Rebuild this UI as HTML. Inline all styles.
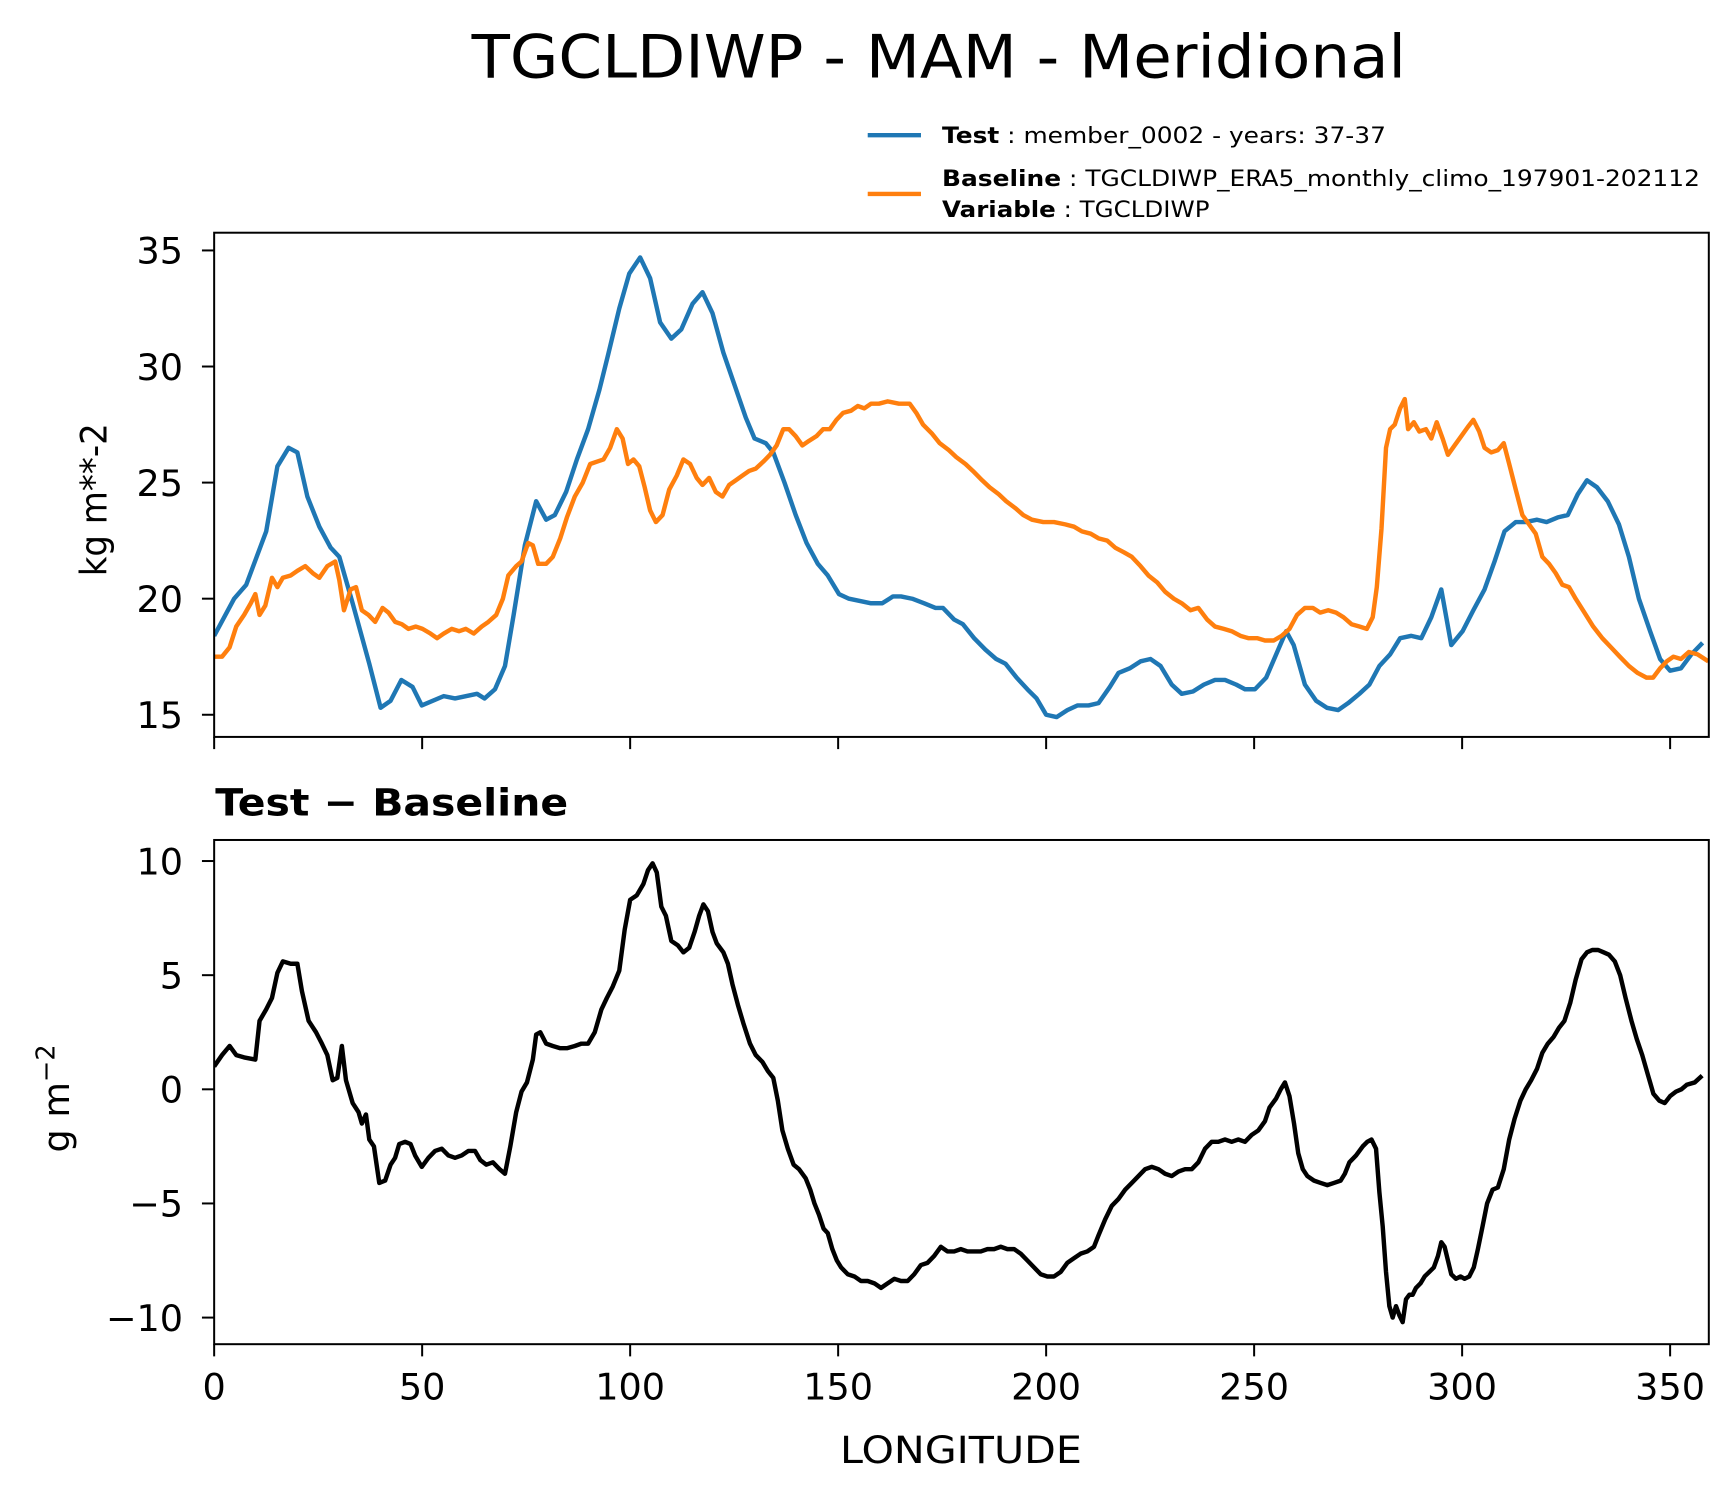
<!DOCTYPE html>
<html><head><meta charset="utf-8"><style>
html,body{margin:0;padding:0;background:#fff;}
svg{display:block;font-family:"DejaVu Sans","Liberation Sans",sans-serif;}
</style></head><body>
<svg id="chart" width="1731" height="1496" viewBox="0 0 1560 1350" preserveAspectRatio="none" xmlns="http://www.w3.org/2000/svg">
<rect width="1560" height="1350" fill="#fff"/>
<text x="425" y="70" font-size="54" textLength="842" lengthAdjust="spacingAndGlyphs">TGCLDIWP - MAM - Meridional</text>
<g>
<line x1="782" y1="122" x2="830" y2="122" stroke="#1f77b4" stroke-width="4"/>
<text x="849" y="129" font-size="20" textLength="400" lengthAdjust="spacingAndGlyphs"><tspan font-weight="bold">Test</tspan> : member_0002 - years: 37-37</text>
<line x1="782" y1="175" x2="830" y2="175" stroke="#ff7f0e" stroke-width="4"/>
<text x="849" y="168" font-size="20" textLength="683" lengthAdjust="spacingAndGlyphs"><tspan font-weight="bold">Baseline</tspan> : TGCLDIWP_ERA5_monthly_climo_197901-202112</text>
<text x="849" y="196" font-size="20" textLength="241" lengthAdjust="spacingAndGlyphs"><tspan font-weight="bold">Variable</tspan> : TGCLDIWP</text>
</g>
<g id="top"></g>
<g id="bot"></g>
<text transform="translate(96,520) rotate(-90)" font-size="33" textLength="138" lengthAdjust="spacingAndGlyphs">kg m**-2</text>
<text transform="translate(62,1040) rotate(-90)" font-size="33">g m<tspan dy="-13" font-size="23">−2</tspan></text>
<text x="194" y="736" font-size="34" font-weight="bold" textLength="318" lengthAdjust="spacingAndGlyphs">Test − Baseline</text>
<text x="757" y="1320" font-size="34" textLength="218" lengthAdjust="spacingAndGlyphs">LONGITUDE</text>
</svg>
<script>
const xTicks=[0,50,100,150,200,250,300,350];
const topYTicks=[15,20,25,30,35];
const botYTicks=[-10,-5,0,5,10];
const botYTickLabels=["−10","−5","0","5","10"];
const testLon=[0,4.8,7.7,12.5,15.2,17.9,20,22.4,25.3,28,30.1,33.3,37.3,40,42.4,45,47.7,49.9,55.2,57.9,63.2,65,67.5,69.9,72,74.7,77.4,79.8,81.9,84.6,87.2,89.9,92.6,94.7,97.4,99.8,102.4,104.8,107.2,109.9,112.3,115,117.4,119.8,122.4,125.1,127.8,129.9,132.6,134.4,137.1,139.8,142.4,145.1,147.5,150.2,152.6,155.2,157.9,160.6,163.2,165.1,167.8,170.7,173.4,175.2,177.9,180,182.7,185.4,188,190.2,192.9,195.5,197.7,200,202.5,205.1,207.5,210.2,212.6,215.3,217.4,220.1,222.7,225.1,227.5,230.2,232.6,235.3,237.9,240.6,243,245.7,247.8,250.2,252.9,255.3,257.7,259.5,262.2,264.9,267.5,270.2,272.6,275.3,277.7,280.1,282.7,285.1,287.8,290.2,292.6,295,297.4,300.1,302.7,305.4,307.8,310.2,312.9,315.3,318,320.3,323,325.4,327.8,330,332.4,335,337.7,340.1,342.5,345.2,347.6,350,352.6,355.1,357.8];
const testVal=[18.4,20.0,20.6,22.9,25.7,26.5,26.3,24.4,23.1,22.2,21.8,19.8,17.2,15.3,15.6,16.5,16.2,15.4,15.8,15.7,15.9,15.7,16.1,17.1,19.3,22.3,24.2,23.4,23.6,24.6,26.0,27.3,29.0,30.5,32.5,34.0,34.7,33.8,31.9,31.2,31.6,32.7,33.2,32.3,30.6,29.2,27.8,26.9,26.7,26.3,25.0,23.6,22.4,21.5,21.0,20.2,20.0,19.9,19.8,19.8,20.1,20.1,20.0,19.8,19.6,19.6,19.1,18.9,18.3,17.8,17.4,17.2,16.6,16.1,15.7,15.0,14.9,15.2,15.4,15.4,15.5,16.2,16.8,17.0,17.3,17.4,17.1,16.3,15.9,16.0,16.3,16.5,16.5,16.3,16.1,16.1,16.6,17.6,18.6,18.0,16.3,15.6,15.3,15.2,15.5,15.9,16.3,17.1,17.6,18.3,18.4,18.3,19.2,20.4,18.0,18.6,19.5,20.4,21.6,22.9,23.3,23.3,23.4,23.3,23.5,23.6,24.5,25.1,24.8,24.2,23.2,21.8,20.0,18.6,17.4,16.9,17.0,17.6,18.1];
const baseLon=[0,1.9,3.7,5.3,7.2,8.8,9.9,10.9,12.3,13.9,15.2,16.5,18.4,20,21.9,23.7,25.3,27.2,29.1,30.1,31.2,32.8,34.1,35.5,37.1,38.7,40.5,41.9,43.5,45.1,46.7,48.5,50.1,52,53.6,55.2,57.1,58.9,60.5,62.4,64.3,65.9,67.8,69.4,70.7,72.6,73.9,75.5,76.6,77.9,79.8,81.4,83.2,84.8,86.7,88.6,90.4,92,93.6,95.2,96.8,98.2,99.5,100.8,102.2,103.5,104.8,106.2,107.8,109.4,111.2,112.8,114.4,116,117.4,119,120.6,122.2,123.8,125.4,127,128.6,130.2,132,133.6,135.2,136.8,138.2,139.8,141.4,143,144.8,146.4,148,149.6,151.2,153.1,154.7,156.3,157.9,159.8,161.9,164.6,167.2,168.8,170.4,172.6,174.4,176.6,178.4,180.6,182.4,184.6,186.4,188.6,190.4,192.6,194.5,196.6,199.3,201.9,204.6,206.7,208.6,210.7,212.6,214.7,216.6,218.7,220.6,222.7,224.6,226.7,228.6,230.7,232.6,234.7,236.6,238.7,240.6,242.7,244.6,246.7,248.6,250.7,252.6,254.7,256.6,258.5,260.3,262.2,264.1,265.9,267.8,269.7,271.5,273.4,275.3,277.1,278.5,279.5,280.6,281.7,282.7,283.8,285.1,286.2,287,288.4,289.7,291.3,292.6,293.9,295.3,296.6,298.2,299.8,301.4,302.7,304.1,305.4,307,308.6,310,311.3,312.9,314.5,316.1,317.7,319.3,320.9,322.5,324.1,325.7,327.3,329.4,331.5,333.7,335.8,337.9,340.1,342.2,344.3,345.9,347.6,349.2,350.8,352.6,354.5,356.6,359.2];
const baseVal=[17.5,17.5,17.9,18.8,19.3,19.8,20.2,19.3,19.7,20.9,20.5,20.9,21.0,21.2,21.4,21.1,20.9,21.4,21.6,20.8,19.5,20.4,20.5,19.5,19.3,19.0,19.6,19.4,19.0,18.9,18.7,18.8,18.7,18.5,18.3,18.5,18.7,18.6,18.7,18.5,18.8,19.0,19.3,20.0,21.0,21.4,21.6,22.4,22.3,21.5,21.5,21.8,22.6,23.5,24.4,25.0,25.8,25.9,26.0,26.5,27.3,26.9,25.8,26.0,25.7,24.8,23.8,23.3,23.6,24.7,25.3,26.0,25.8,25.2,24.9,25.2,24.6,24.4,24.9,25.1,25.3,25.5,25.6,25.9,26.2,26.6,27.3,27.3,27.0,26.6,26.8,27.0,27.3,27.3,27.7,28.0,28.1,28.3,28.2,28.4,28.4,28.5,28.4,28.4,28.0,27.5,27.1,26.7,26.4,26.1,25.8,25.5,25.1,24.8,24.5,24.2,23.9,23.6,23.4,23.3,23.3,23.2,23.1,22.9,22.8,22.6,22.5,22.2,22.0,21.8,21.4,21.0,20.7,20.3,20.0,19.8,19.5,19.6,19.1,18.8,18.7,18.6,18.4,18.3,18.3,18.2,18.2,18.4,18.7,19.3,19.6,19.6,19.4,19.5,19.4,19.2,18.9,18.8,18.7,19.2,20.5,23.0,26.5,27.3,27.5,28.2,28.6,27.3,27.6,27.2,27.3,26.9,27.6,26.9,26.2,26.6,27.0,27.4,27.7,27.2,26.5,26.3,26.4,26.7,25.8,24.7,23.6,23.2,22.8,21.8,21.5,21.1,20.6,20.5,20.0,19.4,18.8,18.3,17.9,17.5,17.1,16.8,16.6,16.6,17.0,17.3,17.5,17.4,17.7,17.6,17.3];
const diffLon=[0,1.9,3.7,5.3,7.2,9.9,10.9,12.5,13.9,15.2,16.5,18.4,20.0,21.1,22.7,24.5,25.9,27.2,28.5,29.6,30.7,31.7,33.3,34.7,35.5,36.5,37.3,38.4,39.7,41.1,42.4,43.5,44.5,45.9,47.2,48.3,49.9,51.5,53.1,54.7,56.3,57.9,59.5,61.1,62.7,64.0,65.4,67.0,68.6,69.9,71.2,72.6,73.9,75.2,76.6,77.4,78.4,79.8,81.4,83.2,84.8,86.7,88.3,89.9,91.5,93.1,94.4,95.8,97.4,98.7,100.0,101.6,103.2,104.3,105.4,106.4,107.5,108.6,109.9,111.5,112.8,114.2,115.5,116.6,117.6,118.7,119.8,120.8,122.4,123.5,124.6,125.9,127.2,128.8,130.2,131.8,133.1,134.4,135.5,136.6,137.9,139.3,140.6,142.2,143.3,144.3,145.4,146.5,147.5,148.6,149.7,150.7,152.3,153.9,155.5,157.1,158.7,160.3,161.9,163.5,165.1,166.7,168.3,169.9,171.5,173.1,174.7,176.3,177.9,179.5,181.1,182.7,184.3,185.9,187.5,189.1,190.7,192.3,193.9,195.5,197.1,198.7,200.3,201.9,203.5,205.1,206.7,208.3,209.9,211.5,212.6,214.2,215.8,217.4,219.0,220.6,222.2,223.8,225.4,227.0,228.6,230.2,231.8,233.4,235.0,236.6,238.2,239.8,241.4,243.0,244.6,246.2,247.8,249.4,251.0,252.6,253.7,255.3,256.4,257.4,258.5,259.6,260.6,261.7,262.8,264.4,266.0,267.6,269.2,270.8,271.8,272.9,274.5,276.1,277.2,278.2,279.3,280.1,280.9,281.7,282.5,283.3,284.1,284.9,285.7,286.5,287.3,288.1,288.9,290.0,291.0,292.1,293.2,294.2,295.0,295.8,296.6,297.4,298.5,299.6,300.6,301.7,302.8,303.8,304.9,306.0,307.3,308.6,310.0,311.3,312.6,314.0,315.3,316.6,318.0,319.3,320.6,322.0,323.3,324.6,326.0,327.3,328.7,330.0,331.3,332.7,334.0,335.3,336.7,338.0,339.3,340.7,342.0,343.3,344.7,346.0,347.4,348.7,350.0,351.4,352.7,354.0,355.9,357.7];
const diffVal=[1.0,1.5,1.9,1.5,1.4,1.3,3.0,3.5,4.0,5.1,5.6,5.5,5.5,4.3,3.0,2.5,2.0,1.5,0.4,0.5,1.9,0.4,-0.6,-1.0,-1.5,-1.1,-2.2,-2.5,-4.1,-4.0,-3.3,-3.0,-2.4,-2.3,-2.4,-2.9,-3.4,-3.0,-2.7,-2.6,-2.9,-3.0,-2.9,-2.7,-2.7,-3.1,-3.3,-3.2,-3.5,-3.7,-2.5,-1.0,-0.1,0.3,1.3,2.4,2.5,2.0,1.9,1.8,1.8,1.9,2.0,2.0,2.5,3.5,4.0,4.5,5.2,7.0,8.3,8.5,9.0,9.6,9.9,9.5,8.0,7.6,6.5,6.3,6.0,6.2,6.9,7.6,8.1,7.8,6.9,6.4,6.0,5.5,4.6,3.7,2.9,2.0,1.5,1.2,0.8,0.5,-0.5,-1.8,-2.6,-3.3,-3.5,-3.9,-4.4,-5.0,-5.5,-6.1,-6.3,-7.0,-7.5,-7.8,-8.1,-8.2,-8.4,-8.4,-8.5,-8.7,-8.5,-8.3,-8.4,-8.4,-8.1,-7.7,-7.6,-7.3,-6.9,-7.1,-7.1,-7.0,-7.1,-7.1,-7.1,-7.0,-7.0,-6.9,-7.0,-7.0,-7.2,-7.5,-7.8,-8.1,-8.2,-8.2,-8.0,-7.6,-7.4,-7.2,-7.1,-6.9,-6.4,-5.7,-5.1,-4.8,-4.4,-4.1,-3.8,-3.5,-3.4,-3.5,-3.7,-3.8,-3.6,-3.5,-3.5,-3.2,-2.6,-2.3,-2.3,-2.2,-2.3,-2.2,-2.3,-2.0,-1.8,-1.4,-0.8,-0.4,0.0,0.3,-0.3,-1.5,-2.8,-3.5,-3.8,-4.0,-4.1,-4.2,-4.1,-4.0,-3.7,-3.2,-2.9,-2.5,-2.3,-2.2,-2.6,-4.5,-6.0,-8.0,-9.5,-10.0,-9.5,-9.9,-10.2,-9.2,-9.0,-9.0,-8.7,-8.5,-8.2,-8.0,-7.8,-7.3,-6.7,-6.9,-7.5,-8.1,-8.3,-8.2,-8.3,-8.2,-7.8,-7.0,-6.0,-5.0,-4.4,-4.3,-3.5,-2.2,-1.3,-0.5,0.0,0.4,0.9,1.6,2.0,2.3,2.7,3.0,3.8,4.8,5.7,6.0,6.1,6.1,6.0,5.9,5.6,5.0,4.0,3.0,2.2,1.5,0.6,-0.2,-0.5,-0.6,-0.3,-0.1,0.0,0.2,0.3,0.6];

const NS='http://www.w3.org/2000/svg';
const X0=193,X1=1540,XMIN=0,XMAX=359.3;
const xs=v=>X0+(v-XMIN)/(XMAX-XMIN)*(X1-X0);
const topY=v=>645-(v-15)*(645-226)/20;
const botY=v=>983-v*(983-777)/10;
function mk(tag,attrs,parent){const e=document.createElementNS(NS,tag);for(const k in attrs)e.setAttribute(k,attrs[k]);parent.appendChild(e);return e;}
function panel(g,yTop,yBot,yfn,ticks,labels,showX){
  for(let i=0;i<ticks.length;i++){
    const y=yfn(ticks[i]);
    const t=mk('line',{x1:X0-11,x2:X0,y1:y,y2:y,stroke:'#000','stroke-width':1.8},g);
    
    
    const l=mk('text',{x:X0-28,y:y+12,'font-size':33,'text-anchor':'end'},g);
    l.textContent=labels[i];
    
    
  }
  for(const v of xTicks){
    const x=xs(v);
    const t=mk('line',{x1:x,x2:x,y1:yBot,y2:yBot+11,stroke:'#000','stroke-width':1.8},g);
    
    
    if(showX){
      const l=mk('text',{x:x,y:yBot+50,'font-size':33,'text-anchor':'middle'},g);
      l.textContent=v;
      
      
    }
  }
}
function line(g,lon,val,yfn,color,name,clip){
  const d=lon.map((v,i)=>(i?'L':'M')+xs(v).toFixed(1)+','+yfn(val[i]).toFixed(1)).join(' ');
  const p=mk('path',{d:d,fill:'none',stroke:color,'stroke-width':4,'stroke-linejoin':'round','clip-path':'url(#'+clip+')'},g);
  
  
}
const svg=document.getElementById('chart');
const defs=mk('defs',{},svg);
const c1=mk('clipPath',{id:'c1'},defs);mk('rect',{x:X0,y:210,width:X1-X0,height:455},c1);
const c2=mk('clipPath',{id:'c2'},defs);mk('rect',{x:X0,y:758,width:X1-X0,height:455},c2);
const gt=document.getElementById('top'),gb=document.getElementById('bot');
line(gt,testLon,testVal,topY,'#1f77b4','test-line','c1');
line(gt,baseLon,baseVal,topY,'#ff7f0e','baseline-line','c1');
line(gb,diffLon,diffVal,botY,'#000','difference-line','c2');
const f1=mk('rect',{x:X0,y:210,width:X1-X0,height:455,fill:'none',stroke:'#000','stroke-width':1.8},gt);


const f2=mk('rect',{x:X0,y:758,width:X1-X0,height:455,fill:'none',stroke:'#000','stroke-width':1.8},gb);


panel(gt,210,665,topY,topYTicks,topYTicks.map(String),false);
panel(gb,758,1213,botY,botYTicks,botYTickLabels,true);
</script>
</body></html>
